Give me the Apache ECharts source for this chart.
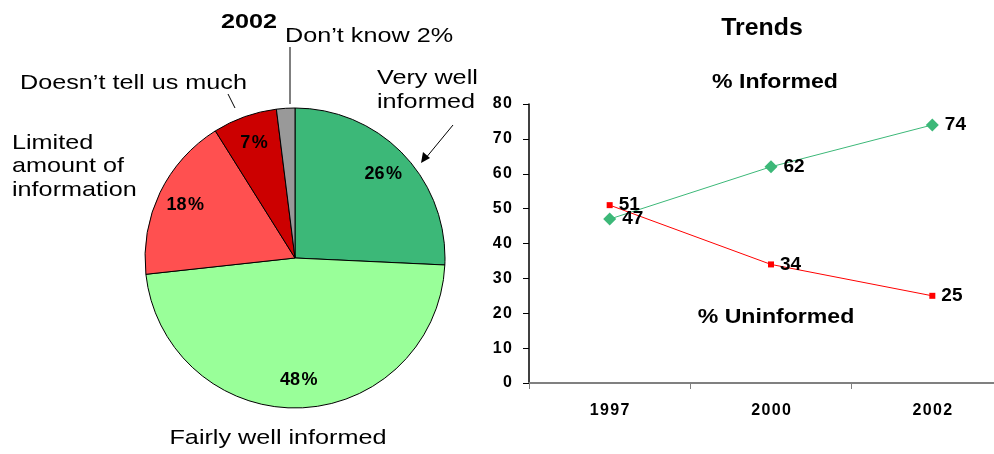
<!DOCTYPE html>
<html>
<head>
<meta charset="utf-8">
<script src="https://cdn.jsdelivr.net/npm/echarts@6/dist/echarts.min.js"></script>
<style>
  html, body { margin: 0; padding: 0; background: #fff; overflow: hidden; }
  #chart { width: 1014px; height: 454px; }
</style>
</head>
<body>
<div id="chart"></div>
<script>
// 2002 breakdown
const pieNames = ['Very well informed', 'Fairly well informed', 'Limited amount of information', 'Doesn\u2019t tell us much', 'Don\u2019t know'];
const pieValues = [26, 48, 18, 7, 2];
const pieColors = ['#3cb878', '#99ff99', '#ff5050', '#cc0000', '#999999'];

// Trend lines
const years = ['1997', '2000', '2002'];
const informed = [47, 62, 74];
const uninformed = [51, 34, 25];
const yTicks = [0, 10, 20, 30, 40, 50, 60, 70, 80];

const FONT = '"Liberation Sans", Arial, sans-serif';
const spaced = s => String(s).split('').join('\u200a');
const chart = echarts.init(document.getElementById('chart'), null, { renderer: 'canvas' });

const pieData = pieNames.map((n, i) => ({ name: n, value: pieValues[i], itemStyle: { color: pieColors[i] } }));

// free-standing annotation text, slightly widened
const txt = (x, y, text, extra, sx) => ({
  type: 'text', x, y, scaleX: sx || 1.2,
  style: Object.assign({ text, font: '21px ' + FONT, fill: '#000', textVerticalAlign: 'middle' }, extra || {})
});

chart.setOption({
  animation: false,
  grid: { left: 529, top: 104, width: 484, height: 279 },
  xAxis: {
    type: 'category', data: years, boundaryGap: true,
    axisLine: { lineStyle: { color: '#808080', width: 2 } },
    axisTick: { show: true, length: 6, lineStyle: { color: '#808080', width: 1 } },
    axisLabel: { color: '#000', fontFamily: FONT, fontWeight: 'bold', fontSize: 16, margin: 20,
      formatter: v => spaced(v) }
  },
  yAxis: {
    type: 'value', min: yTicks[0], max: yTicks[yTicks.length - 1], interval: 10,
    splitLine: { show: false },
    axisLine: { show: true, lineStyle: { color: '#000', width: 1.5 } },
    axisTick: { show: true, length: 6, lineStyle: { color: '#000' } },
    axisLabel: { color: '#000', fontFamily: FONT, fontWeight: 'bold', fontSize: 16, margin: 17,
      formatter: v => spaced(v) }
  },
  series: [
    {
      type: 'pie', center: [295, 258], radius: [0, 150], startAngle: 90, clockwise: true,
      data: pieData, label: { show: false }, labelLine: { show: false },
      itemStyle: { borderColor: '#000', borderWidth: 1 }, silent: true
    },
    {
      // value labels sitting inside each slice
      type: 'pie', center: [295, 258], radius: [88, 150], startAngle: 90, clockwise: true,
      data: pieValues.map((v, i) => ({ name: pieNames[i], value: v })),
      itemStyle: { color: 'rgba(0,0,0,0)' }, silent: true,
      label: { show: true, position: 'inside', fontFamily: FONT, fontWeight: 'bold', fontSize: 18, color: '#000',
        formatter: p => p.value >= 5 ? p.value + '\u200a%' : '' },
      labelLine: { show: false }
    },
    {
      name: '% Informed', type: 'line', data: informed,
      symbol: 'diamond', symbolSize: 13,
      lineStyle: { color: '#3cb878', width: 1 }, itemStyle: { color: '#3cb878' },
      label: { show: true, position: 'right', distance: 6, fontFamily: FONT, fontWeight: 'bold', fontSize: 19, color: '#000' }
    },
    {
      name: '% Uninformed', type: 'line', data: uninformed,
      symbol: 'rect', symbolSize: 6,
      lineStyle: { color: '#ff0000', width: 1 }, itemStyle: { color: '#ff0000' },
      label: { show: true, position: 'right', distance: 6, fontFamily: FONT, fontWeight: 'bold', fontSize: 19, color: '#000' }
    }
  ],
  graphic: [
    txt(249, 22, '2002', { font: 'bold 21px ' + FONT, textAlign: 'center' }, 1.2),
    txt(285, 36, pieNames[4] + ' ' + pieValues[4] + '%'),
    { type: 'line', shape: { x1: 290, y1: 47, x2: 290, y2: 104 }, style: { stroke: '#000', lineWidth: 1 } },
    txt(377, 78, 'Very well'),
    txt(377, 102, 'informed'),
    { type: 'line', shape: { x1: 453, y1: 125, x2: 425, y2: 159 }, style: { stroke: '#000', lineWidth: 1 } },
    { type: 'polygon', shape: { points: [[421, 163], [423, 152], [430, 158]] }, style: { fill: '#000' } },
    txt(20, 83, pieNames[3]),
    { type: 'line', shape: { x1: 228, y1: 94, x2: 235, y2: 108 }, style: { stroke: '#000', lineWidth: 1 } },
    txt(12, 143, 'Limited'),
    txt(12, 166, 'amount of'),
    txt(12, 190, 'information'),
    txt(278, 438, pieNames[1], { textAlign: 'center' }),
    txt(762, 29, 'Trends', { font: 'bold 23px ' + FONT, textAlign: 'center' }, 1.08),
    txt(775, 82, '% Informed', { font: 'bold 21px ' + FONT, textAlign: 'center' }, 1.1),
    txt(776, 317, '% Uninformed', { font: 'bold 21px ' + FONT, textAlign: 'center' }, 1.1)
  ]
});
</script>
</body>
</html>
